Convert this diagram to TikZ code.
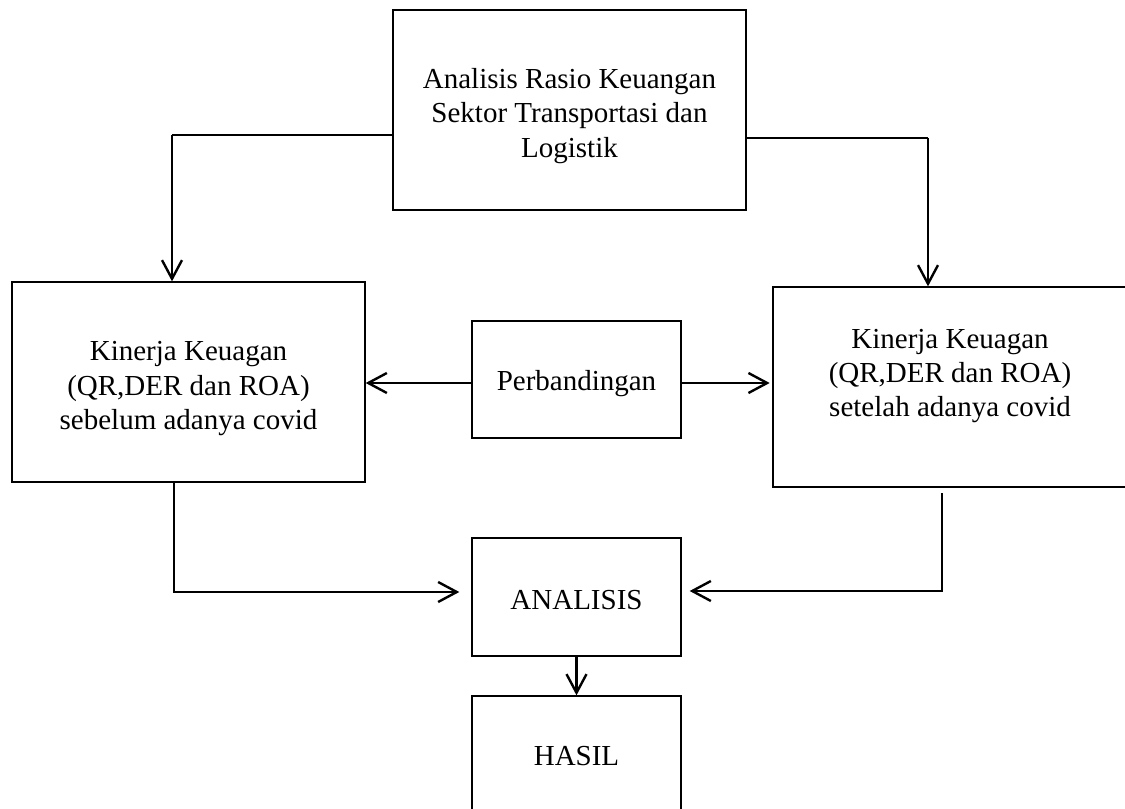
\documentclass[tikz,border=0pt]{standalone}
\usepackage{fontspec}
\setmainfont{Liberation Serif}
\usetikzlibrary{arrows.meta}

\tikzset{
  kotak/.style={draw, line width=1pt, rectangle, inner sep=0pt, align=center,
    font=\fontsize{21.75}{25.75}\selectfont},
  teks/.style={kotak, draw=none},
  panah/.style={line width=2pt, -{Straight Barb[length=14pt,width=15pt,line width=1.8pt]}},
  garis/.style={line width=1.2pt}
}

\begin{document}
\begin{tikzpicture}[x=0.75pt,y=0.75pt,yscale=-1,xscale=1]
\useasboundingbox (0,0) rectangle (1125,809);

% Boxes
\node [kotak, minimum width=353*0.75pt, minimum height=200*0.75pt,
  label={[teks, yshift=-4.5pt]center:Analisis Rasio Keuangan\\Sektor Transportasi dan\\Logistik}] (analisisrasio) at (569.5,110) {};
\node [kotak, minimum width=353*0.75pt, minimum height=200*0.75pt,
  label={[teks, yshift=-5pt]center:Kinerja Keuagan\\(QR,DER dan ROA)\\sebelum adanya covid}] (sebelum) at (188.5,382) {};
\node [kotak, minimum width=354*0.75pt, minimum height=200*0.75pt,
  label={[teks, yshift=8.25pt]center:Kinerja Keuagan\\(QR,DER dan ROA)\\setelah adanya covid}] (setelah) at (950,387) {};
\node [kotak, minimum width=209*0.75pt, minimum height=117*0.75pt,
  label={[teks, yshift=-3pt]center:Perbandingan}] (banding) at (576.5,379.5) {};
\node [kotak, minimum width=209*0.75pt, minimum height=118*0.75pt,
  label={[teks, yshift=-2pt]center:ANALISIS}] (analisis) at (576.5,597) {};
\node [kotak, minimum width=209*0.75pt, minimum height=120*0.75pt] (hasil) at (576.5,756) {HASIL};

% Bends
\coordinate (kiriatas) at (172,135);
\coordinate (kananatas) at (928,138);
\coordinate (kiribawah) at (174,592);
\coordinate (kananbawah) at (942,591);

% Connectors
\draw [garis] (analisisrasio.west |- kiriatas) -- (kiriatas);
\draw [panah] (kiriatas) -- (kiriatas |- sebelum.north);
\draw [garis] (analisisrasio.east |- kananatas) -- (kananatas);
\draw [panah] (kananatas) -- (kananatas |- setelah.north);
\draw [panah] (banding.west |- 0,383) -- (sebelum.east |- 0,383);
\draw [panah, shorten >=2pt] (banding.east |- 0,383) -- (setelah.west |- 0,383);
\draw [panah, shorten >=9pt] (kiribawah |- sebelum.south) -- (kiribawah) -- (analisis.west |- kiribawah);
\draw [panah, shorten >=6pt, shorten <=4pt] (kananbawah |- setelah.south) -- (kananbawah) -- (analisis.east |- kananbawah);
\draw [panah] (analisis.south) -- (hasil.north);

\end{tikzpicture}
\end{document}
